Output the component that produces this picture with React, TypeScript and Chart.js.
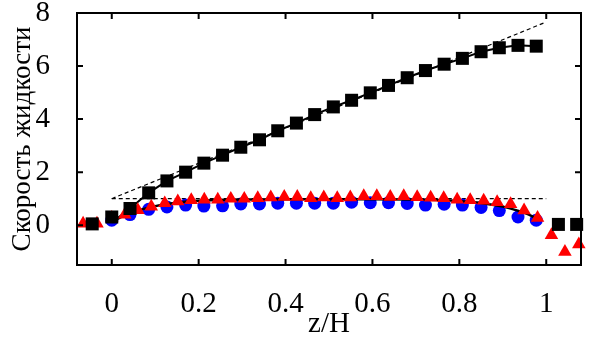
import React, { useEffect, useRef } from "react";
import { Chart, registerables } from "chart.js";
Chart.register(...registerables);

// z/H positions and velocities
const squareZ = [-0.045, 0, 0.042, 0.085, 0.127, 0.17, 0.212, 0.255, 0.297, 0.34, 0.382, 0.425, 0.467, 0.51, 0.552, 0.595, 0.637, 0.68, 0.722, 0.765, 0.807, 0.85, 0.892, 0.935, 0.977, 1.028, 1.07];
const squareV = [0.05, 0.31, 0.63, 1.22, 1.67, 2.0, 2.34, 2.64, 2.94, 3.22, 3.56, 3.85, 4.17, 4.46, 4.71, 4.99, 5.27, 5.56, 5.83, 6.07, 6.29, 6.54, 6.69, 6.78, 6.75, 0.03, 0.03];

const circleZ = [0, 0.042, 0.085, 0.127, 0.17, 0.212, 0.255, 0.297, 0.34, 0.382, 0.425, 0.467, 0.51, 0.552, 0.595, 0.637, 0.68, 0.722, 0.765, 0.807, 0.85, 0.892, 0.935, 0.977];
const circleV = [0.19, 0.4, 0.6, 0.69, 0.76, 0.72, 0.73, 0.8, 0.8, 0.83, 0.83, 0.83, 0.83, 0.87, 0.85, 0.85, 0.82, 0.76, 0.79, 0.76, 0.67, 0.55, 0.31, 0.19];

const triangleZ = [-0.066, -0.034, 0, 0.03, 0.06, 0.091, 0.122, 0.152, 0.183, 0.213, 0.244, 0.274, 0.305, 0.336, 0.366, 0.397, 0.427, 0.458, 0.488, 0.519, 0.549, 0.58, 0.61, 0.641, 0.672, 0.703, 0.734, 0.764, 0.795, 0.825, 0.856, 0.887, 0.918, 0.949, 0.98, 1.012, 1.043, 1.075];
const triangleV = [0.06, 0.06, 0.28, 0.4, 0.57, 0.7, 0.83, 0.9, 0.95, 0.97, 0.97, 1.0, 1.0, 1.02, 1.05, 1.07, 1.07, 1.02, 1.05, 1.02, 1.05, 1.1, 1.1, 1.07, 1.1, 1.06, 1.04, 1.02, 0.97, 0.95, 0.93, 0.87, 0.8, 0.56, 0.28, -0.37, -1.0, -0.72];

const upperFitZ = [0, 0.042, 0.085, 0.127, 0.17, 0.212, 0.255, 0.297, 0.34, 0.382, 0.425, 0.467, 0.51, 0.552, 0.595, 0.637, 0.68, 0.722, 0.765, 0.807, 0.85, 0.892, 0.935, 0.977];
const upperFitV = [0.1, 0.63, 1.22, 1.67, 2.0, 2.34, 2.64, 2.94, 3.22, 3.56, 3.85, 4.17, 4.46, 4.71, 4.99, 5.27, 5.56, 5.83, 6.07, 6.29, 6.54, 6.69, 6.78, 6.75];

const lowerFitZ = [0, 0.02, 0.05, 0.1, 0.15, 0.2, 0.3, 0.4, 0.5, 0.6, 0.7, 0.75, 0.8, 0.85, 0.9, 0.93, 0.96, 0.985];
const lowerFitV = [0.12, 0.3, 0.5, 0.72, 0.85, 0.92, 0.97, 0.98, 0.98, 0.98, 0.97, 0.95, 0.91, 0.84, 0.7, 0.57, 0.4, 0.19];

const dashUpperZ = [0, 1];
const dashUpperV = [1, 7.66];
const dashLowerZ = [0, 1];
const dashLowerV = [1, 1];

const xTicks = [0, 0.2, 0.4, 0.6, 0.8, 1];
const yTicks = [0, 2, 4, 6, 8];
const xTickLabels = ["0", "0.2", "0.4", "0.6", "0.8", "1"];
const yTickLabels = ["0", "2", "4", "6", "8"];

const pts = (xs: number[], ys: number[]) => xs.map((x, i) => ({ x, y: ys[i] }));

const FONT = "'Liberation Serif', 'Times New Roman', serif";

const framePlugin = {
  id: "frame",
  afterDraw(chart: any) {
    const { ctx, chartArea: a, scales } = chart;
    const tl = 6;
    ctx.save();
    ctx.strokeStyle = "#000";
    ctx.lineWidth = 2;
    ctx.strokeRect(a.left, a.top, a.right - a.left, a.bottom - a.top);
    ctx.beginPath();
    for (const v of xTicks) {
      const px = scales.x.getPixelForValue(v);
      ctx.moveTo(px, a.bottom);
      ctx.lineTo(px, a.bottom - tl);
      ctx.moveTo(px, a.top);
      ctx.lineTo(px, a.top + tl);
    }
    for (const v of yTicks) {
      const py = scales.y.getPixelForValue(v);
      ctx.moveTo(a.left, py);
      ctx.lineTo(a.left + tl, py);
      ctx.moveTo(a.right, py);
      ctx.lineTo(a.right - tl, py);
    }
    ctx.stroke();
    ctx.restore();
  },
};

export default function App() {
  const ref = useRef<HTMLCanvasElement>(null);
  useEffect(() => {
    document.body.style.margin = "0";
    const chart = new Chart(ref.current!, {
      type: "scatter",
      data: {
        datasets: [
          {
            label: "squares",
            data: pts(squareZ, squareV),
            pointStyle: "rect",
            pointRadius: 9.2,
            backgroundColor: "#000",
            borderColor: "#000",
            borderWidth: 0,
            showLine: false,
            order: 0,
            clip: false,
          },
          {
            label: "triangles",
            data: pts(triangleZ, triangleV),
            pointStyle: "triangle",
            pointRadius: 7.8,
            backgroundColor: "#ff0000",
            borderColor: "#ff0000",
            borderWidth: 0,
            showLine: false,
            order: 1,
            clip: false,
          },
          {
            label: "upperFit",
            data: pts(upperFitZ, upperFitV),
            showLine: true,
            pointRadius: 0,
            borderColor: "#000",
            borderWidth: 2,
            order: 2,
          },
          {
            label: "lowerFit",
            data: pts(lowerFitZ, lowerFitV),
            showLine: true,
            pointRadius: 0,
            borderColor: "#000",
            borderWidth: 2.5,
            tension: 0.4,
            cubicInterpolationMode: "monotone",
            order: 2,
          },
          {
            label: "circles",
            data: pts(circleZ, circleV),
            pointStyle: "circle",
            pointRadius: 6.5,
            backgroundColor: "#0000ff",
            borderColor: "#0000ff",
            borderWidth: 0,
            showLine: false,
            order: 3,
            clip: false,
          },
          {
            label: "dashUpper",
            data: pts(dashUpperZ, dashUpperV),
            showLine: true,
            pointRadius: 0,
            borderColor: "#000",
            borderWidth: 1.2,
            borderDash: [4, 3],
            order: 4,
          },
          {
            label: "dashLower",
            data: pts(dashLowerZ, dashLowerV),
            showLine: true,
            pointRadius: 0,
            borderColor: "#000",
            borderWidth: 1.2,
            borderDash: [4, 3],
            order: 4,
          },
        ] as any,
      },
      options: {
        responsive: false,
        animation: false,
        layout: { padding: { top: 13, right: 19, left: 0, bottom: 0 } },
        plugins: { legend: { display: false }, tooltip: { enabled: false } },
        scales: {
          x: {
            type: "linear",
            min: -0.08,
            max: 1.08,
            grid: { display: false },
            border: { display: false },
            afterBuildTicks: (s: any) => {
              s.ticks = xTicks.map((v) => ({ value: v }));
            },
            afterFit: (s: any) => {
              s.height = 73;
              s.paddingLeft = 0;
              s.paddingRight = 0;
            },
            ticks: {
              color: "#000",
              padding: 14,
              maxRotation: 0,
              font: { family: FONT, size: 29 },
              callback: (v: any) => xTickLabels[xTicks.indexOf(Number(v))] ?? "",
            },
            title: {
              display: true,
              text: "z/H",
              color: "#000",
              font: { family: FONT, size: 29 },
              padding: { top: 0, bottom: -4 },
            },
          },
          y: {
            type: "linear",
            min: -1.5,
            max: 8,
            grid: { display: false },
            border: { display: false },
            afterBuildTicks: (s: any) => {
              s.ticks = yTicks.map((v) => ({ value: v }));
            },
            afterFit: (s: any) => {
              s.width = 77;
              s.paddingTop = 0;
              s.paddingBottom = 0;
            },
            ticks: {
              color: "#000",
              padding: 19,
              font: { family: FONT, size: 29 },
              callback: (v: any) => yTickLabels[yTicks.indexOf(Number(v))] ?? "",
            },
            title: {
              display: true,
              text: "Скорость жидкости",
              color: "#000",
              font: { family: FONT, size: 27 },
              padding: { top: 7, bottom: 0 },
            },
          },
        },
      },
      plugins: [framePlugin],
    });
    return () => chart.destroy();
  }, []);
  return (
    <div style={{ width: 600, height: 338 }}>
      <canvas ref={ref} width={600} height={338} style={{ display: "block" }} />
    </div>
  );
}
